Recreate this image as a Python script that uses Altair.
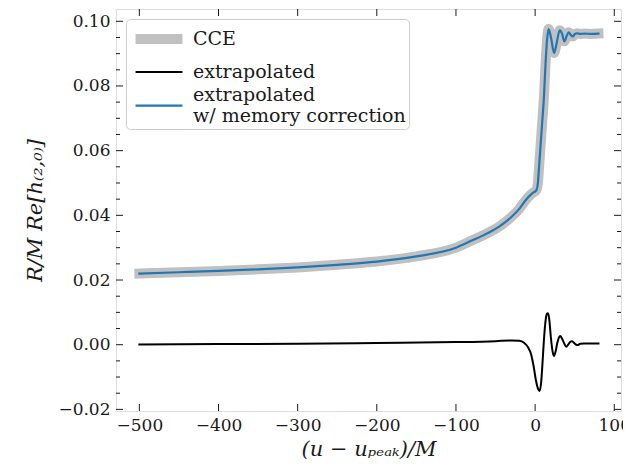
import altair as alt
import pandas as pd

# ---- data ----
t_cce = [-500, -450, -400, -350, -300, -250, -200, -150, -100, -80, -60, -45, -30, -20,
         -11, -5, -2, 0, 2, 3.5, 5, 7, 9, 11, 13, 15, 17, 20, 24, 27, 31, 34, 37, 40,
         42.5, 45, 47.5, 50, 53, 57, 62, 70, 80]
h_cce = [0.0220, 0.0224, 0.0228, 0.0233, 0.0239, 0.0247, 0.0257, 0.0273, 0.0300, 0.0322,
         0.0345, 0.0366, 0.0395, 0.0420, 0.0450, 0.0465, 0.0471, 0.0474, 0.0480, 0.0500,
         0.0550, 0.0620, 0.0690, 0.0760, 0.0860, 0.0940, 0.0976, 0.0950, 0.0902, 0.0930,
         0.0972, 0.0962, 0.0938, 0.0955, 0.0966, 0.0958, 0.0953, 0.0960, 0.0963, 0.0961,
         0.0962, 0.0961, 0.0962]

t_mem = list(t_cce)
h_mem = list(h_cce)

t_ext = [-500, -400, -300, -200, -100, -50, -30, -20, -14, -9, -5, -2, 1, 3.5, 5.5, 7.5,
         9.5, 11, 13, 14.8, 16.2, 17.8, 20, 22, 23.8, 25.8, 28, 30, 31.8, 33.8, 36, 39.4,
         42, 44.5, 46.5, 49, 52, 54, 57, 62, 70, 80]
h_ext = [0.0001, 0.0002, 0.0003, 0.0005, 0.0008, 0.0011, 0.0013, 0.0012, 0.0006, -0.0008,
         -0.0030, -0.0065, -0.0110, -0.0135, -0.0143, -0.0120, -0.0050, 0.0010, 0.0070,
         0.0095, 0.0097, 0.0080, 0.0020, -0.0020, -0.0035, -0.0022, 0.0005, 0.0022, 0.0027,
         0.0020, 0.0008, -0.0006, 0.0001, 0.0009, 0.0011, 0.0006, 0.0000, -0.0001, 0.0003,
         0.0004, 0.0004, 0.0004]

series_names = ["CCE", "extrapolated", "extrapolated w/ memory correction"]
series_colors = ["#c0c0c0", "#000000", "#1f77b4"]
series_widths = [10, 2.0, 2.2]
# legend symbol paths (a horizontal stroke; the two-line entry's stroke sits lower)
series_symbols = ["M-2,0H2", "M-2,0H2", "M-2,0.9H2"]

x_major = [-500, -400, -300, -200, -100, 0, 100]
y_major = [-0.02, 0.0, 0.02, 0.04, 0.06, 0.08, 0.10]
y_minor = [-0.015, -0.01, -0.005, 0.005, 0.01, 0.015, 0.025, 0.03, 0.035, 0.045, 0.05,
           0.055, 0.065, 0.07, 0.075, 0.085, 0.09, 0.095]

x_domain = [-529.5, 108.5]
y_domain = [-0.0205, 0.1038]

W, H = 505, 402
FONT = "DejaVu Serif"
INK = "#1a1a1a"

rows = []
for name, ts, hs in [(series_names[0], t_cce, h_cce),
                     (series_names[1], t_ext, h_ext),
                     (series_names[2], t_mem, h_mem)]:
    for t, h in zip(ts, hs):
        rows.append({"series": name, "t": t, "h": h})
df = pd.DataFrame(rows)

xscale = alt.Scale(domain=x_domain, nice=False, zero=False)
yscale = alt.Scale(domain=y_domain, nice=False, zero=False)

legend = alt.Legend(
    title=None, orient="top-left", offset=10, values=series_names,
    symbolType="M-2,0H2", symbolSize=550, symbolOffset=13,
    labelFont=FONT, labelFontSize=19, labelColor=INK, labelLimit=0, labelOffset=17,
    labelExpr="datum.label == 'extrapolated w/ memory correction' ? ['extrapolated', 'w/ memory correction'] : datum.label",
    fillColor="rgba(255,255,255,0.85)", strokeColor="#cccccc", cornerRadius=4,
    padding=3, rowPadding=-2,
)

color = alt.Color("series:N", scale=alt.Scale(domain=series_names, range=series_colors), legend=legend)
swidth = alt.StrokeWidth("series:N", scale=alt.Scale(type="ordinal", domain=series_names,
                                                     range=series_widths), legend=legend)
shape = alt.Shape("series:N", scale=alt.Scale(domain=series_names, range=series_symbols), legend=legend)

x_enc = alt.X("t:Q", scale=xscale, axis=alt.Axis(
    values=x_major, tickSize=0, domain=False, grid=False, labelFont=FONT, labelFontSize=17,
    labelColor=INK, labelPadding=6,
    labelExpr="replace(format(datum.value, 'd'), '-', '\u2212')",
    title="(u \u2212 u\u209a\u2091\u2090\u2096)/M", titleFont=FONT, titleFontSize=21,
    titleFontWeight="normal", titleFontStyle="italic", titleColor=INK, titlePadding=5))
y_enc = alt.Y("h:Q", scale=yscale, axis=alt.Axis(
    values=y_major, tickSize=0, domain=False, grid=False, labelFont=FONT, labelFontSize=17,
    labelColor=INK, labelPadding=6,
    labelExpr="replace(format(datum.value, '.2f'), '-', '\u2212')",
    title="R/M Re[h\u208d\u2082,\u2080\u208e]", titleFont=FONT, titleFontSize=21,
    titleFontWeight="normal", titleFontStyle="italic", titleColor=INK, titlePadding=12))

base = alt.Chart(df)
lines = []
for name in series_names:
    lines.append(base.transform_filter(alt.datum.series == name).mark_line(
        interpolate="monotone", strokeCap="square", strokeJoin="round").encode(
        x=x_enc, y=y_enc, color=color, strokeWidth=swidth))

# invisible carrier for the legend's symbol shapes
shape_layer = base.transform_filter("false").mark_point(opacity=0).encode(
    x=alt.X("t:Q", scale=xscale), y=alt.Y("h:Q", scale=yscale), shape=shape)

xt = pd.DataFrame({"t": x_major})
ymaj = pd.DataFrame({"h": y_major})
ymin = pd.DataFrame({"h": y_minor})
tick_style = dict(color=INK, strokeWidth=1)

ticks = [
    alt.Chart(xt).mark_rule(**tick_style).encode(x=alt.X("t:Q", scale=xscale), y=alt.value(H), y2=alt.value(H - 7)),
    alt.Chart(xt).mark_rule(**tick_style).encode(x=alt.X("t:Q", scale=xscale), y=alt.value(0), y2=alt.value(7)),
    alt.Chart(ymaj).mark_rule(**tick_style).encode(y=alt.Y("h:Q", scale=yscale), x=alt.value(0), x2=alt.value(7)),
    alt.Chart(ymaj).mark_rule(**tick_style).encode(y=alt.Y("h:Q", scale=yscale), x=alt.value(W), x2=alt.value(W - 7)),
    alt.Chart(ymin).mark_rule(**tick_style).encode(y=alt.Y("h:Q", scale=yscale), x=alt.value(0), x2=alt.value(4)),
    alt.Chart(ymin).mark_rule(**tick_style).encode(y=alt.Y("h:Q", scale=yscale), x=alt.value(W), x2=alt.value(W - 4)),
]

chart = alt.layer(*lines, shape_layer, *ticks).properties(
    width=W, height=H,
    autosize=alt.AutoSizeParams(type="none"),
    padding={"left": 108, "top": 1, "right": 2, "bottom": 52},
).configure_view(stroke=INK, strokeWidth=1.2).configure(background="white")

chart.save("out.html", embed_options={"renderer": "svg", "actions": False})
